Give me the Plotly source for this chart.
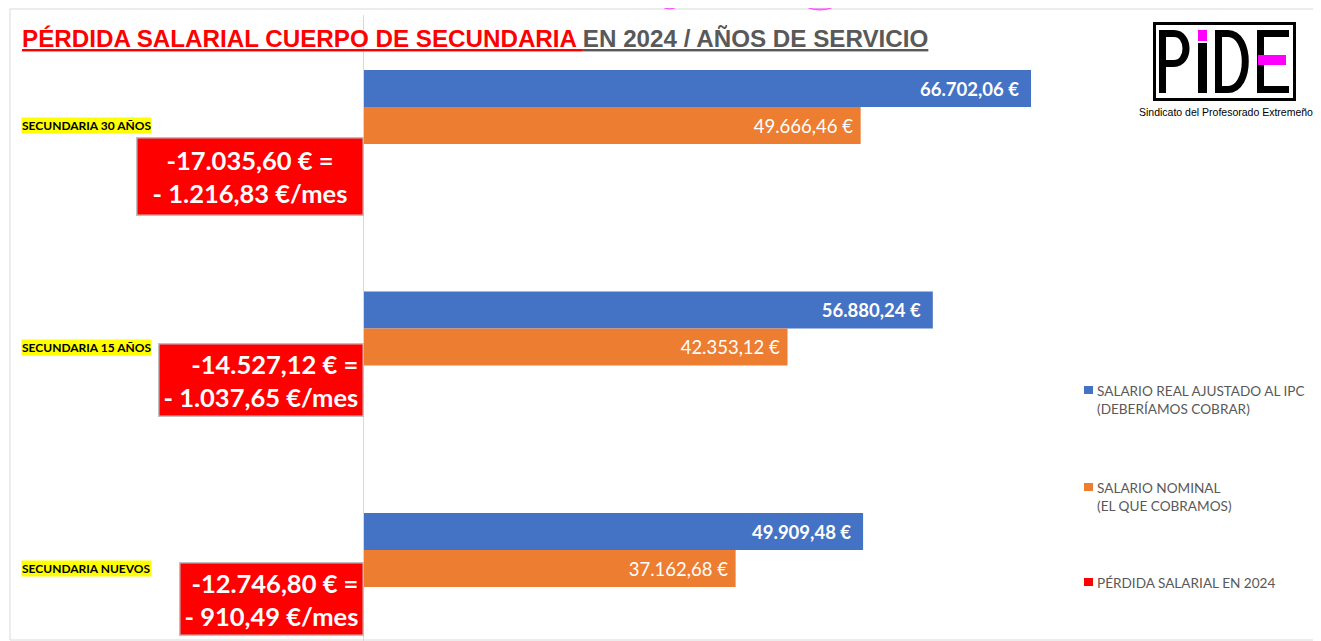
"""
Pérdida salarial cuerpo de secundaria en 2024 por años de servicio.
Barras horizontales: salario real ajustado al IPC vs salario nominal.
"""

import plotly.graph_objects as go

# Datos.
categorias = ["SECUNDARIA 30 AÑOS", "SECUNDARIA 15 AÑOS", "SECUNDARIA NUEVOS"]
salario_real = [66702.06, 56880.24, 49909.48]
salario_nominal = [49666.46, 42353.12, 37162.68]
perdida_anual = [17035.60, 14527.12, 12746.80]
perdida_mes = [1216.83, 1037.65, 910.49]

leyenda = [
    ("SALARIO REAL AJUSTADO AL IPC<br>(DEBERÍAMOS COBRAR)", "#4472C4"),
    ("SALARIO NOMINAL<br>(EL QUE COBRAMOS)", "#ED7D31"),
    ("PÉRDIDA SALARIAL EN 2024", "#FF0000"),
]

# La página tiene 8 px de margen en el body: la figura ocupa el resto.
OFF = 8
W, H = 1321 - OFF, 641 - OFF
FONT = "Lato"
GRIS = "#595959"


def px(x):
    # pixel de pantalla horizontal -> coordenada paper (márgenes a cero)
    return (x - OFF) / W


def py(y):
    # pixel de pantalla vertical (desde arriba) -> coordenada paper
    return 1 - (y - OFF) / H


def eur(v):
    # formato español: 17.035,60
    return f"{v:,.2f}".replace(",", "X").replace(".", ",").replace("X", ".")


def path(pts):
    # construye un path SVG en coordenadas paper a partir de pixeles
    out = []
    for cmd, coords in pts:
        nums = []
        for i in range(0, len(coords), 2):
            nums.append(f"{px(coords[i]):.5f},{py(coords[i + 1]):.5f}")
        out.append(cmd + " " + " ".join(nums))
    return " ".join(out)


fig = go.Figure()

fig.add_trace(
    go.Bar(
        y=categorias,
        x=salario_real,
        orientation="h",
        name="SALARIO REAL AJUSTADO AL IPC",
        marker=dict(color="#4472C4", line=dict(width=0)),
        texttemplate="%{x:,.2f} €\u00a0\u00a0",
        textposition="inside",
        insidetextanchor="end",
        textfont=dict(color="white", size=18.5, family=FONT, weight="bold"),
    )
)
fig.add_trace(
    go.Bar(
        y=categorias,
        x=salario_nominal,
        orientation="h",
        name="SALARIO NOMINAL",
        marker=dict(color="#ED7D31", line=dict(width=0)),
        texttemplate="%{x:,.2f} €\u00a0",
        textposition="inside",
        insidetextanchor="end",
        textfont=dict(color="white", size=18.5, family=FONT),
    )
)
# Serie de pérdida: negativa, queda fuera del eje (como en el original)
fig.add_trace(
    go.Bar(
        y=categorias,
        x=[-v for v in perdida_anual],
        orientation="h",
        name="PÉRDIDA SALARIAL EN 2024",
        marker=dict(color="#FF0000", line=dict(width=0)),
        hoverinfo="skip",
    )
)

annotations = []
shapes = []

# Título con subrayado en dos colores
annotations.append(
    dict(
        xref="paper", yref="paper", x=px(20), y=py(38),
        xanchor="left", yanchor="middle", showarrow=False,
        text="<u>PÉRDIDA SALARIAL CUERPO DE SECUNDARIA </u>"
             f"<span style='color:{GRIS}'><u>EN 2024 / AÑOS DE SERVICIO</u></span>",
        font=dict(family="Liberation Sans", size=24.2, color="#FF0000", weight="bold"),
    )
)

# Etiquetas de categoría con fondo amarillo
for cat in categorias:
    annotations.append(
        dict(
            xref="paper", yref="y", x=px(21), y=cat,
            xanchor="left", yanchor="middle", showarrow=False,
            text=cat, bgcolor="#FFFF00", borderpad=0,
            font=dict(family=FONT, size=12, color="black", weight="bold"),
        )
    )

# Cajas rojas de pérdida
alineacion = ["center", "right", "right"]
desplaz = [-50.5, -32.5, -30]
for i, cat in enumerate(categorias):
    box = dict(
        xref="x", yref="y", x=0, y=cat,
        xanchor="right", yanchor="middle", showarrow=False,
        yshift=desplaz[i],
        text=f"-{eur(perdida_anual[i])} € =<br>- {eur(perdida_mes[i])} €/mes",
        align=alineacion[i],
        bgcolor="#FF0000", bordercolor="#BFBFBF", borderwidth=1.5, borderpad=4,
        font=dict(family=FONT, size=25.5, color="white", weight="bold"),
    )
    if i == 0:
        box["width"] = 217
        box["height"] = 68
    annotations.append(box)

# Leyenda manual
ley_y = [390, 487, 582]
for (txt, col), yy in zip(leyenda, ley_y):
    shapes.append(
        dict(type="rect", xref="paper", yref="paper",
             x0=px(1084), x1=px(1093), y0=py(yy + 4), y1=py(yy - 4),
             fillcolor=col, line=dict(width=0))
    )
    annotations.append(
        dict(
            xref="paper", yref="paper", x=px(1095), y=py(yy - 9.5),
            xanchor="left", yanchor="top", showarrow=False, align="left",
            text=txt, font=dict(family=FONT, size=13.6, color=GRIS),
        )
    )

# Marco del gráfico
shapes.append(
    dict(type="rect", xref="paper", yref="paper", layer="below",
         x0=px(10), x1=px(1340), y0=py(640), y1=py(9),
         line=dict(color="#D9D9D9", width=1), fillcolor="rgba(0,0,0,0)")
)

# Restos de dibujo rosa recortado arriba
rosa = dict(fillcolor="rgba(255,80,255,0.55)", line=dict(color="#FF40FF", width=1))
shapes.append(dict(type="circle", xref="paper", yref="paper",
                   x0=px(655), x1=px(684), y0=py(9), y1=py(-22), **rosa))
shapes.append(dict(type="path", xref="paper", yref="paper",
                   path=path([("M", [716, -2]), ("L", [733, -2, 746, 11, 731, 12]), ("Z", [])]),
                   **rosa))
shapes.append(dict(type="circle", xref="paper", yref="paper",
                   x0=px(790), x1=px(850), y0=py(10), y1=py(-45), **rosa))

# Logo PiDE
negro = dict(fillcolor="black", line=dict(width=0))
shapes.append(dict(type="rect", xref="paper", yref="paper",
                   x0=px(1154.5), x1=px(1294.5), y0=py(99.5), y1=py(23.5),
                   line=dict(color="black", width=3), fillcolor="rgba(0,0,0,0)"))
for x0, x1, y0, y1 in [(1159, 1166, 30, 93), (1198, 1207, 43, 93),
                       (1215, 1222, 30, 93), (1257, 1264, 30, 93),
                       (1257, 1289, 30, 37), (1257, 1289, 86, 93)]:
    shapes.append(dict(type="rect", xref="paper", yref="paper",
                       x0=px(x0), x1=px(x1), y0=py(y1), y1=py(y0), **negro))
shapes.append(dict(type="path", xref="paper", yref="paper",
                   path=path([("M", [1162.5, 33.5]), ("L", [1174, 33.5]),
                              ("C", [1190, 33.5, 1190, 63.5, 1174, 63.5]),
                              ("L", [1162.5, 63.5])]),
                   line=dict(color="black", width=7)))
shapes.append(dict(type="path", xref="paper", yref="paper",
                   path=path([("M", [1218.5, 33.5]), ("L", [1228, 33.5]),
                              ("C", [1251, 33.5, 1251, 89.5, 1228, 89.5]),
                              ("L", [1218.5, 89.5])]),
                   line=dict(color="black", width=7)))
for x0, x1, y0, y1 in [(1198, 1207, 30, 41), (1258, 1286, 55, 65)]:
    shapes.append(dict(type="rect", xref="paper", yref="paper",
                       x0=px(x0), x1=px(x1), y0=py(y1), y1=py(y0),
                       fillcolor="#FF00FF", line=dict(width=0)))
annotations.append(
    dict(xref="paper", yref="paper", x=px(1226), y=py(112),
         xanchor="center", yanchor="middle", showarrow=False,
         text="Sindicato del Profesorado Extremeño",
         font=dict(family="Liberation Sans", size=10.5, color="black"))
)

# Escala: 0 € en x=364 px, 100 € por pixel; categorías cada 221,5 px
top = 14.75
paso = 221.5
fig.update_layout(
    width=W,
    height=H,
    margin=dict(l=0, r=0, t=0, b=0),
    paper_bgcolor="white",
    plot_bgcolor="white",
    separators=",.",
    barmode="group",
    bargap=0.499,
    bargroupgap=0,
    showlegend=False,
    xaxis=dict(domain=[px(364), px(1064)], range=[0, 70000], visible=False),
    yaxis=dict(
        domain=[0, py(top)],
        range=[-0.5 + (641 - top) / paso, -0.5],
        showticklabels=False,
        ticks="",
        showgrid=False,
        showline=True,
        linecolor="#D9D9D9",
        linewidth=1,
        zeroline=False,
    ),
    annotations=annotations,
    shapes=shapes,
    hovermode=False,
)

fig.write_html("out.html")
